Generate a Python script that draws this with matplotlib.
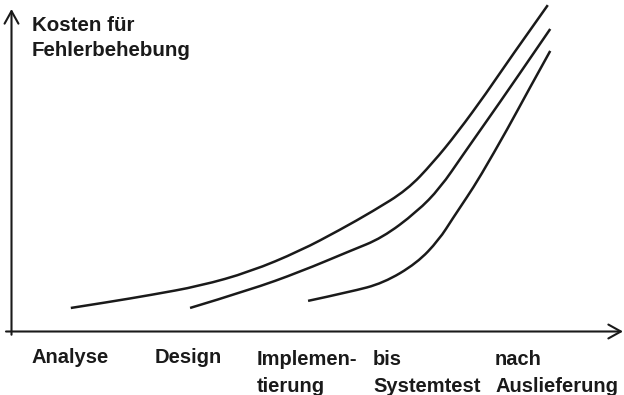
import matplotlib
matplotlib.use('Agg')
import matplotlib.pyplot as plt
from matplotlib.path import Path
from matplotlib.patches import PathPatch

plt.rcParams['font.family'] = ['Liberation Sans', 'DejaVu Sans']

# phases on the time axis (label left edges in axis units)
phase_labels = ['Analyse', 'Design', 'Implemen-\ntierung', 'bis\nSystemtest', 'nach\nAuslieferung']
phase_label_x = [0.335, 2.347, 4.015, 5.912, 7.907]

# cost curves: error introduced in analysis / design / implementation
analyse_x = [0.97, 1.61, 2.27, 3.08, 3.90, 4.72, 5.37, 5.91, 6.47, 6.89, 7.29, 7.78, 8.10, 8.77]
analyse_y = [7.3, 9.2, 11.3, 14.1, 18.5, 25.0, 31.5, 37.3, 43.9, 52.3, 61.6, 74.3, 83.3, 101.2]

design_x = [2.92, 3.90, 4.72, 5.54, 6.06, 6.63, 7.01, 7.38, 7.78, 8.20, 8.81]
design_y = [7.3, 12.9, 18.5, 25.0, 29.0, 37.1, 44.5, 54.7, 65.5, 76.9, 93.8]

impl_x = [4.85, 5.54, 6.08, 6.63, 6.99, 7.22, 7.45, 7.66, 8.12, 8.43, 8.81]
impl_y = [9.5, 12.3, 15.0, 21.2, 28.4, 35.2, 41.7, 47.9, 63.1, 74.0, 87.0]


def smooth_path(xs, ys):
    # quadratic curve through midpoints, read points used as control points
    pts = list(zip(xs, ys))
    verts = [pts[0]]
    codes = [Path.MOVETO]
    for i in range(1, len(pts) - 1):
        mid = ((pts[i][0] + pts[i + 1][0]) / 2, (pts[i][1] + pts[i + 1][1]) / 2)
        if i == len(pts) - 2:
            mid = pts[-1]
        verts += [pts[i], mid]
        codes += [Path.CURVE3, Path.CURVE3]
    return Path(verts, codes)


fig = plt.figure(figsize=(6.24, 3.95), dpi=100)
ax = fig.add_axes([11.5 / 624, (395 - 331.5) / 395, (623 - 11.5) / 624, (331.5 - 9) / 395])
ax.set_xlim(0, 10)
ax.set_ylim(0, 100)
ax.axis('off')

for xs, ys in [(analyse_x, analyse_y), (design_x, design_y), (impl_x, impl_y)]:
    ax.add_patch(PathPatch(smooth_path(xs, ys), fill=False, edgecolor='#1a1a1a',
                           lw=1.8, clip_on=False, capstyle='butt'))

# axes drawn as arrows
arrow = dict(arrowstyle='->,head_length=0.45,head_width=0.25', lw=1.5, color='#1a1a1a',
             shrinkA=0, shrinkB=0, mutation_scale=20)
ax.annotate('', xy=(1, 0), xytext=(-0.009, 0), xycoords='axes fraction', arrowprops=arrow)
ax.annotate('', xy=(0, 1), xytext=(0, -0.01), xycoords='axes fraction', arrowprops=arrow)

ax.text(0.335, 85.4, 'Kosten für\nFehlerbehebung', fontsize=14.8, fontweight='bold',
        ha='left', va='baseline', linespacing=1.4, color='#1a1a1a')

for lx, lab in zip(phase_label_x, phase_labels):
    ly = -18.8 if '\n' in lab else -9.8
    ax.text(lx, ly, lab, fontsize=14.5, fontweight='bold', ha='left', va='baseline',
            linespacing=1.55, color='#1a1a1a', clip_on=False)

fig.savefig('out.png', dpi=100)
